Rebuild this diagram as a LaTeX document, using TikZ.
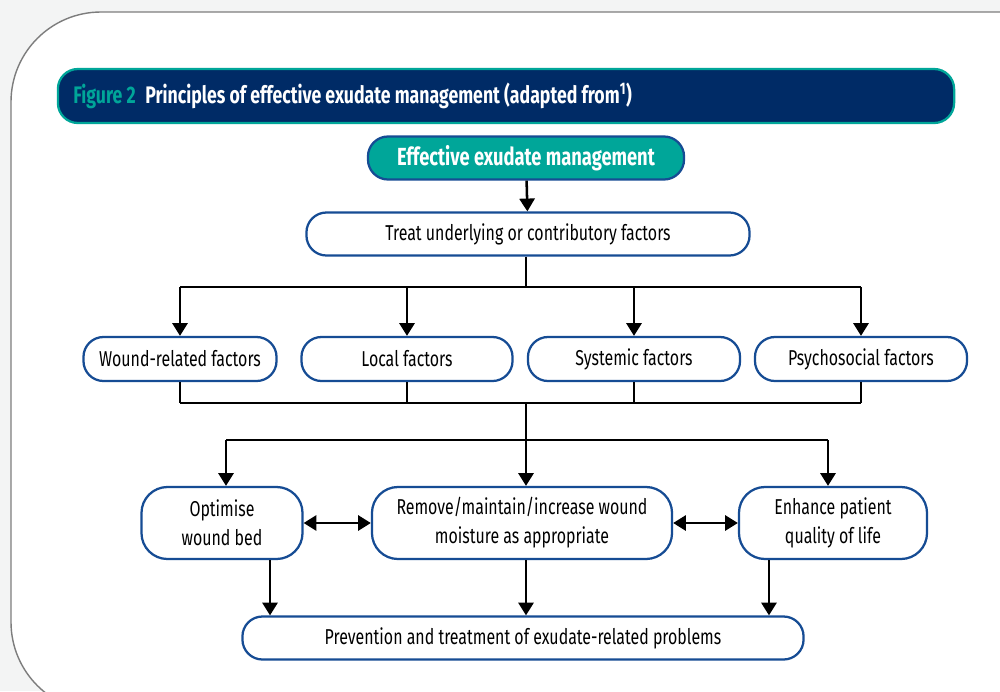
\documentclass[tikz,border=0pt]{standalone}
\usepackage{fontspec}
\setmainfont[FakeStretch=0.74]{Fira Sans}
\usetikzlibrary{arrows.meta}
\definecolor{pagegray}{RGB}{243,244,244}
\definecolor{framegray}{RGB}{125,125,125}
\definecolor{navyband}{RGB}{0,43,102}
\definecolor{tealband}{RGB}{0,166,153}
\definecolor{boxblue}{RGB}{22,76,148}

\tikzset{
  box/.style={draw=boxblue, line width=1.6pt, fill=white, rounded corners=0.5cm,
    inner sep=0pt, align=center, font=\fontsize{15.3}{20.5}\selectfont},
  line/.style={line width=1.8pt, black},
  arr/.style={line, -{Triangle[width=0.38cm,length=0.32cm]}},
  arrtwo/.style={line, {Triangle[width=0.38cm,length=0.32cm]}-{Triangle[width=0.38cm,length=0.32cm]}}
}

\begin{document}
\begin{tikzpicture}[x=0.025cm, y=-0.025cm]
\useasboundingbox (0,0) rectangle (1000,691);
\fill[pagegray] (0,0) rectangle (1000,691);
\draw[framegray, line width=1pt, fill=white, rounded corners=2.25cm] (1020,712) -- (11,712) -- (11,12) -- (1020,12);

% title band
\node[draw=tealband, line width=1.6pt, fill=navyband, rounded corners=0.5cm,
  minimum width=22.4cm, minimum height=1.35cm] (band) at (506,96) {};
\node[anchor=west, inner sep=0pt, font=\fontsize{17}{20}\bfseries\selectfont] (title) at (73,96)
  {\textcolor{tealband}{Figure 2}\hspace{0.4em}\textcolor{white}{Principles of effective exudate management (adapted from\textsuperscript{1})}};

% nodes
\node[box, fill=tealband, text=white, font=\fontsize{17.6}{20}\bfseries\selectfont,
  minimum width=7.9cm, minimum height=1.075cm] (eem) at (526,158) {Effective exudate management};
\node[box, minimum width=11.075cm, minimum height=1.075cm] (treat) at (528,234) {Treat underlying or contributory factors};

\node[box, minimum width=4.825cm, minimum height=1.1cm] (wound) at (180,359) {Wound-related factors};
\node[box, minimum width=5.275cm, minimum height=1.1cm] (local) at (407,359) {Local factors};
\node[box, minimum width=5.3cm, minimum height=1.1cm] (systemic) at (634,359) {Systemic factors};
\node[box, minimum width=5.3cm, minimum height=1.1cm] (psycho) at (861,359) {Psychosocial factors};

\node[box, rounded corners=0.65cm, minimum width=4.025cm, minimum height=1.8cm] (optimise) at (222,523) {Optimise\\wound bed};
\node[box, rounded corners=0.65cm, minimum width=7.5cm, minimum height=1.8cm] (remove) at (522,523) {Remove/maintain/increase wound\\moisture as appropriate};
\node[box, rounded corners=0.65cm, minimum width=4.7cm, minimum height=1.8cm] (enhance) at (833,523) {Enhance patient\\quality of life};

\node[box, minimum width=14.025cm, minimum height=1.075cm] (prevent) at (523,638) {Prevention and treatment of exudate-related problems};

% bus coordinates
\coordinate (top) at (526,287);
\coordinate (mid) at (526,403);
\coordinate (low) at (526,440);
\coordinate (lowl) at (226,440);
\coordinate (lowr) at (828,440);

% connectors
\draw[arr] (eem) -- (treat);
\draw[line] (treat.south -| top) -- (top);
\draw[line] (wound.north |- top) -- (psycho.north |- top);
\foreach \n in {wound,local,systemic,psycho}
  \draw[arr] (\n.north |- top) -- (\n.north);

\foreach \n in {wound,local,systemic,psycho}
  \draw[line] (\n.south) -- (\n.south |- mid);
\draw[line] (wound.south |- mid) -- (psycho.south |- mid);
\draw[line] (lowl) -- (lowr);
\draw[arr] (mid) -- (mid |- remove.north);
\draw[arr] (lowl) -- (lowl |- optimise.north);
\draw[arr] (lowr) -- (lowr |- enhance.north);

\draw[arrtwo] (optimise) -- (remove);
\draw[arrtwo] (remove) -- (enhance);

\draw[arr] ([xshift=1.2cm]optimise.south) -- ([xshift=1.2cm]optimise.south |- prevent.north);
\draw[arr] (mid |- remove.south) -- (mid |- prevent.north);
\draw[arr] ([xshift=-1.6cm]enhance.south) -- ([xshift=-1.6cm]enhance.south |- prevent.north);
\end{tikzpicture}
\end{document}
